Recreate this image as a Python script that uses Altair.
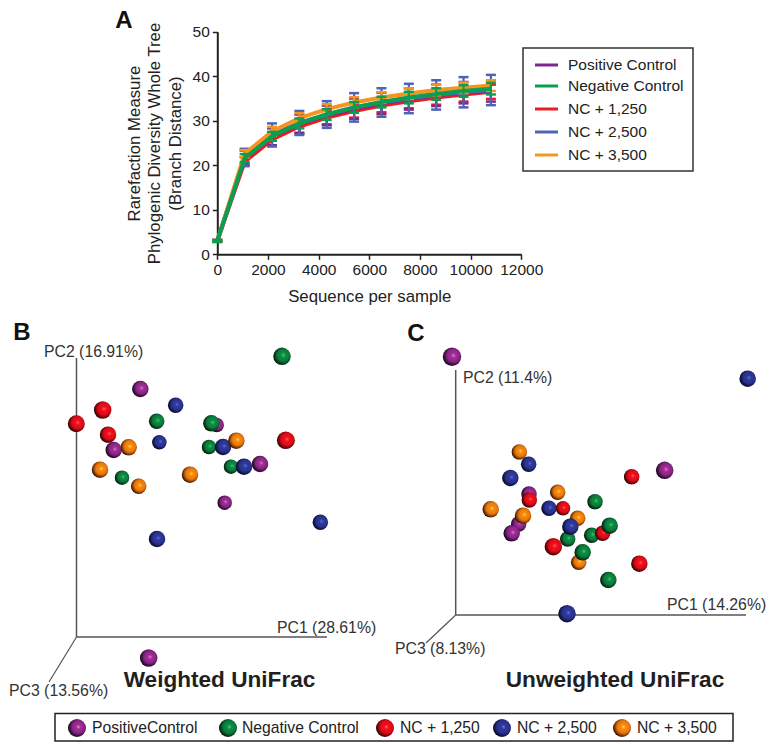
import altair as alt
import pandas as pd

FONT = "Liberation Sans"
W, H = 759, 736

SEQ = [0, 1080, 2160, 3240, 4320, 5400, 6480, 7560, 8640, 9720, 10800]
RED_Y = [3, 20.8, 25.8, 28.7, 30.7, 32.2, 33.4, 34.4, 35.2, 35.9, 36.5]
RED_E = [0.2, 1.0, 1.3, 1.4, 1.5, 1.5, 1.5, 1.6, 1.6, 1.6, 1.6]
PURPLE_Y = [3, 21.8, 26.4, 29.3, 31.2, 32.7, 33.9, 34.9, 35.7, 36.3, 36.7]
PURPLE_E = [0.2, 1.5, 1.9, 2.1, 2.2, 2.3, 2.4, 2.4, 2.4, 2.4, 2.4]
BLUE_Y = [3, 21.8, 26.8, 29.5, 31.4, 33.0, 34.1, 35.0, 35.8, 36.4, 36.9]
BLUE_E = [0.2, 1.9, 2.6, 2.7, 3.0, 3.2, 3.2, 3.3, 3.3, 3.4, 3.4]
ORANGE_Y = [3, 22.6, 27.6, 30.6, 32.6, 34.1, 35.2, 36.1, 36.9, 37.4, 37.9]
ORANGE_E = [0.2, 0.8, 1.0, 1.1, 1.1, 1.2, 1.2, 1.2, 1.2, 1.2, 1.2]
GREEN_Y = [3, 21.6, 26.5, 29.4, 31.4, 33.0, 34.2, 35.2, 36.0, 36.7, 37.2]
GREEN_E = [0.2, 0.9, 1.0, 1.1, 1.2, 1.2, 1.2, 1.3, 1.3, 1.3, 1.3]

A_NAMES = ["Positive Control", "Negative Control", "NC + 1,250", "NC + 2,500", "NC + 3,500"]
A_COLORS = ["#7b2a8c", "#0a9f50", "#ed1c24", "#4f63b4", "#f7941d"]
PCOA_NAMES = ["PositiveControl", "Negative Control", "NC + 1,250", "NC + 2,500", "NC + 3,500"]

# PCoA readings, in the units of a 3x enlargement of each panel
B_PURPLE_X = [421, 650, 341, 674, 446]
B_PURPLE_Y = [207, 315, 390, 548, 1014]
B_PURPLE_D = [16.5, 14.5, 16.5, 14.5, 17.5]
B_GREEN_X = [846, 470, 634, 627, 693, 366]
B_GREEN_Y = [109, 304, 310, 381, 440, 473]
B_GREEN_D = [17.5, 15.5, 16.5, 14.5, 14.5, 14.5]
B_RED_X = [308, 229, 324, 857]
B_RED_Y = [270, 311, 344, 361]
B_RED_D = [17.5, 17, 16.5, 17.5]
B_ORANGE_X = [386, 300, 416, 570, 862]
B_ORANGE_Y = [382, 449, 499, 464, 361]
B_ORANGE_D = [16.5, 16.5, 15.5, 16.5, 15.5]
B_BLUE_X = [527, 478, 669, 732, 961, 471]
B_BLUE_Y = [256, 367, 381, 440, 607, 657]
B_BLUE_D = [15.5, 14.5, 16.5, 16.5, 15.5, 16.5]
B_TOP_PURPLE_X = [780]
B_TOP_PURPLE_Y = [432]
B_TOP_PURPLE_D = [16.5]
B_TOP_ORANGE_X = [709]
B_TOP_ORANGE_Y = [362]
B_TOP_ORANGE_D = [16.5]

C_PURPLE_X = [186, 824, 417, 386, 365]
C_PURPLE_Y = [110, 451, 522, 612, 640]
C_PURPLE_D = [18.5, 17.5, 15.5, 15.5, 16.5]
C_GREEN_X = [615, 605, 533, 578, 655]
C_GREEN_Y = [545, 646, 657, 697, 780]
C_GREEN_D = [15.5, 15.5, 15.5, 16.5, 16.5]
C_ORANGE_X = [388, 503, 302, 399, 563, 566]
C_ORANGE_Y = [396, 517, 568, 587, 595, 727]
C_ORANGE_D = [15.5, 15.5, 16.5, 16.5, 15.5, 15.5]
C_BLUE_X = [1073, 416, 361, 477, 541, 531]
C_BLUE_Y = [176, 433, 474, 565, 620, 881]
C_BLUE_D = [16.5, 15.5, 16.5, 15.5, 16.5, 17.5]
C_RED_X = [725, 418, 519, 638, 490, 748]
C_RED_Y = [470, 540, 565, 640, 680, 731]
C_RED_D = [15.5, 15.5, 14.5, 15.5, 17.5, 16.5]
C_TOP_GREEN_X = [659]
C_TOP_GREEN_Y = [617]
C_TOP_GREEN_D = [16.5]


def px(v):
    return v - 8


SPHERES = {
    "purple": ["#e58ac6", "#a02f98", "#8a2486", "#3a0f3c", "#050105"],
    "green": ["#58d070", "#0c8f45", "#0a7a3a", "#053a1c", "#010503"],
    "red": ["#ff6a6a", "#f0101c", "#e00a18", "#6a0508", "#080000"],
    "blue": ["#6a7ad0", "#2f3a9c", "#2a3290", "#12164a", "#010206"],
    "orange": ["#ffe050", "#f88a10", "#e8780c", "#783404", "#080200"],
}


def sphere_fill(name):
    c = SPHERES[name]
    stops = [alt.GradientStop(offset=o, color=k)
             for o, k in zip([0, 0.2, 0.55, 0.8, 1], c)]
    return alt.RadialGradient(gradient="radial", stops=stops,
                              x1=0.58, y1=0.44, r1=0, x2=0.58, y2=0.44, r2=0.62)


def spheres(name, xs, ys, ds, left, top):
    df = pd.DataFrame({"a": xs, "b": ys, "d": ds})
    return alt.Chart(df).mark_circle(fill=sphere_fill(name), opacity=1, fillOpacity=1).encode(
        x=alt.X("a:Q", axis=None, scale=alt.Scale(domain=[0, 1200], range=[px(left), px(left + 400)])),
        y=alt.Y("b:Q", axis=None, scale=alt.Scale(domain=[0, 1200], range=[px(top), px(top + 400)])),
        size=alt.Size("d:Q", legend=None,
                      scale=alt.Scale(type="pow", exponent=2, domain=[0, 20], range=[0, 400])),
    )


def label(text, x, y, size=14, weight="normal", color="#222222", align="left"):
    return alt.Chart(pd.DataFrame({"t": [text]})).mark_text(
        font=FONT, fontSize=size, fontWeight=weight, color=color, align=align, baseline="middle"
    ).encode(text="t:N", x=alt.value(px(x)), y=alt.value(px(y)))


def seg(x1, y1, x2, y2, color="#555555", w=1.5):
    return alt.Chart(pd.DataFrame({"k": [0]})).mark_rule(color=color, strokeWidth=w).encode(
        x=alt.value(px(x1)), x2=alt.value(px(x2)), y=alt.value(px(y1)), y2=alt.value(px(y2)))


def box(x1, y1, x2, y2, color="#333333", w=1.5):
    return alt.Chart(pd.DataFrame({"k": [0]})).mark_rect(
        fill="white", stroke=color, strokeWidth=w).encode(
        x=alt.value(px(x1)), x2=alt.value(px(x2)), y=alt.value(px(y1)), y2=alt.value(px(y2)))


XS = dict(domain=[0, 12000], range=[px(217.3), px(521.3)])
YS = dict(domain=[0, 50], range=[px(254.3), px(31.7)])
ax_x = alt.X("x:Q", scale=alt.Scale(**XS), axis=None)
ax_y = alt.Y("y:Q", scale=alt.Scale(**YS), axis=None)


def series(ys, es, color):
    df = pd.DataFrame({"x": SEQ, "y": ys, "e": es})
    df["lo"] = df.y - df.e
    df["hi"] = df.y + df.e
    base = alt.Chart(df)
    stem = base.mark_rule(color=color, strokeWidth=2.2).encode(
        x=ax_x, y=alt.Y("lo:Q", scale=alt.Scale(**YS), axis=None), y2="hi:Q")
    caps = [base.mark_tick(color=color, orient="horizontal", size=10, thickness=2.5, opacity=1).encode(
        x=ax_x, y=alt.Y(f"{c}:Q", scale=alt.Scale(**YS), axis=None)) for c in ("lo", "hi")]
    line = base.mark_line(color=color, strokeWidth=4).encode(x=ax_x, y=ax_y)
    return [stem, *caps, line]


common = dict(grid=False, titleFont=FONT, titleFontSize=16.8, titleFontWeight="normal",
              titleColor="#222222", labelFont=FONT, labelFontSize=15.5, labelColor="#222222",
              labelPadding=3, labelOverlap=False, labelFlush=False,
              domainColor="#222222", domainWidth=2, tickColor="#222222", tickWidth=1.5, tickSize=5)
axes_layer = alt.Chart(pd.DataFrame({"x": [0], "y": [0]})).mark_point(opacity=0).encode(
    x=alt.X("x:Q", scale=alt.Scale(**XS),
            axis=alt.Axis(values=list(range(0, 12001, 2000)), format="d",
                          offset=px(254.3) - H, title="Sequence per sample", titlePadding=11, **common)),
    y=alt.Y("y:Q", scale=alt.Scale(**YS),
            axis=alt.Axis(values=list(range(0, 51, 10)), offset=-px(217.3),
                          title=["Rarefaction Measure", "Phylogenic Diversity Whole Tree", "(Branch Distance)"],
                          titlePadding=8, titleLineHeight=20.5, **common)),
)

layers = [axes_layer]
layers += series(RED_Y, RED_E, A_COLORS[2])
layers += series(PURPLE_Y, PURPLE_E, A_COLORS[0])
layers += series(BLUE_Y, BLUE_E, A_COLORS[3])
layers += series(ORANGE_Y, ORANGE_E, A_COLORS[4])
layers += series(GREEN_Y, GREEN_E, A_COLORS[1])

# legend of panel A
layers.append(box(523, 48, 693, 171))
for name, color, row in zip(A_NAMES, A_COLORS, [65, 86, 109, 132, 155]):
    layers.append(seg(535, row, 558, row, color=color, w=3))
    layers.append(label(name, 568, row, size=15.5))

layers.append(label("A", 124, 21, size=24, weight="bold", color="#111111", align="center"))
layers.append(label("B", 22, 333, size=24, weight="bold", color="#111111", align="center"))
layers.append(label("C", 416, 334, size=24, weight="bold", color="#111111", align="center"))

# PCoA axes
layers += [seg(76.5, 358, 76.5, 637), seg(76.5, 637, 327, 637), seg(76.5, 637, 49, 682, w=1.2)]
layers += [seg(455.7, 370, 455.7, 615), seg(455.7, 615, 746, 615), seg(455.7, 615, 426, 643, w=1.2)]
for t, x, y in [("PC2 (16.91%)", 44, 352), ("PC1 (28.61%)", 277, 628), ("PC3 (13.56%)", 9, 691),
                ("PC2 (11.4%)", 463, 378), ("PC1 (14.26%)", 667, 605), ("PC3 (8.13%)", 395, 649)]:
    layers.append(label(t, x, y, size=15.8, color="#333333"))

layers += [
    spheres("purple", B_PURPLE_X, B_PURPLE_Y, B_PURPLE_D, 0, 320),
    spheres("orange", B_ORANGE_X, B_ORANGE_Y, B_ORANGE_D, 0, 320),
    spheres("green", B_GREEN_X, B_GREEN_Y, B_GREEN_D, 0, 320),
    spheres("blue", B_BLUE_X, B_BLUE_Y, B_BLUE_D, 0, 320),
    spheres("red", B_RED_X, B_RED_Y, B_RED_D, 0, 320),
    spheres("purple", B_TOP_PURPLE_X, B_TOP_PURPLE_Y, B_TOP_PURPLE_D, 0, 320),
    spheres("orange", B_TOP_ORANGE_X, B_TOP_ORANGE_Y, B_TOP_ORANGE_D, 0, 320),
    spheres("purple", C_PURPLE_X, C_PURPLE_Y, C_PURPLE_D, 390, 320),
    spheres("orange", C_ORANGE_X, C_ORANGE_Y, C_ORANGE_D, 390, 320),
    spheres("green", C_GREEN_X, C_GREEN_Y, C_GREEN_D, 390, 320),
    spheres("blue", C_BLUE_X, C_BLUE_Y, C_BLUE_D, 390, 320),
    spheres("red", C_RED_X, C_RED_Y, C_RED_D, 390, 320),
    spheres("green", C_TOP_GREEN_X, C_TOP_GREEN_Y, C_TOP_GREEN_D, 390, 320),
]

layers.append(label("Weighted UniFrac", 219.5, 680, size=22.6, weight="bold", color="#231f20", align="center"))
layers.append(label("Unweighted UniFrac", 615, 680, size=22.6, weight="bold", color="#231f20", align="center"))

# bottom legend
layers.append(box(55, 713.5, 733, 741, color="#222222"))
for name, kind, sx, tx in zip(PCOA_NAMES, ["purple", "green", "red", "blue", "orange"],
                              [77, 228, 385, 502, 622], [92, 242, 400, 517, 637]):
    layers.append(spheres(kind, [sx * 3], [(728 - 700) * 3], [18], 0, 700))
    layers.append(label(name, tx, 728, size=15.7, color="#222222"))

chart = alt.layer(*layers).resolve_scale(x="independent", y="independent", size="independent").properties(
    width=W, height=H, padding=0, autosize=alt.AutoSizeParams(type="none"),
    background="white",
).configure_view(stroke=None)

chart.save("out.html", embed_options={"renderer": "svg", "actions": False})
